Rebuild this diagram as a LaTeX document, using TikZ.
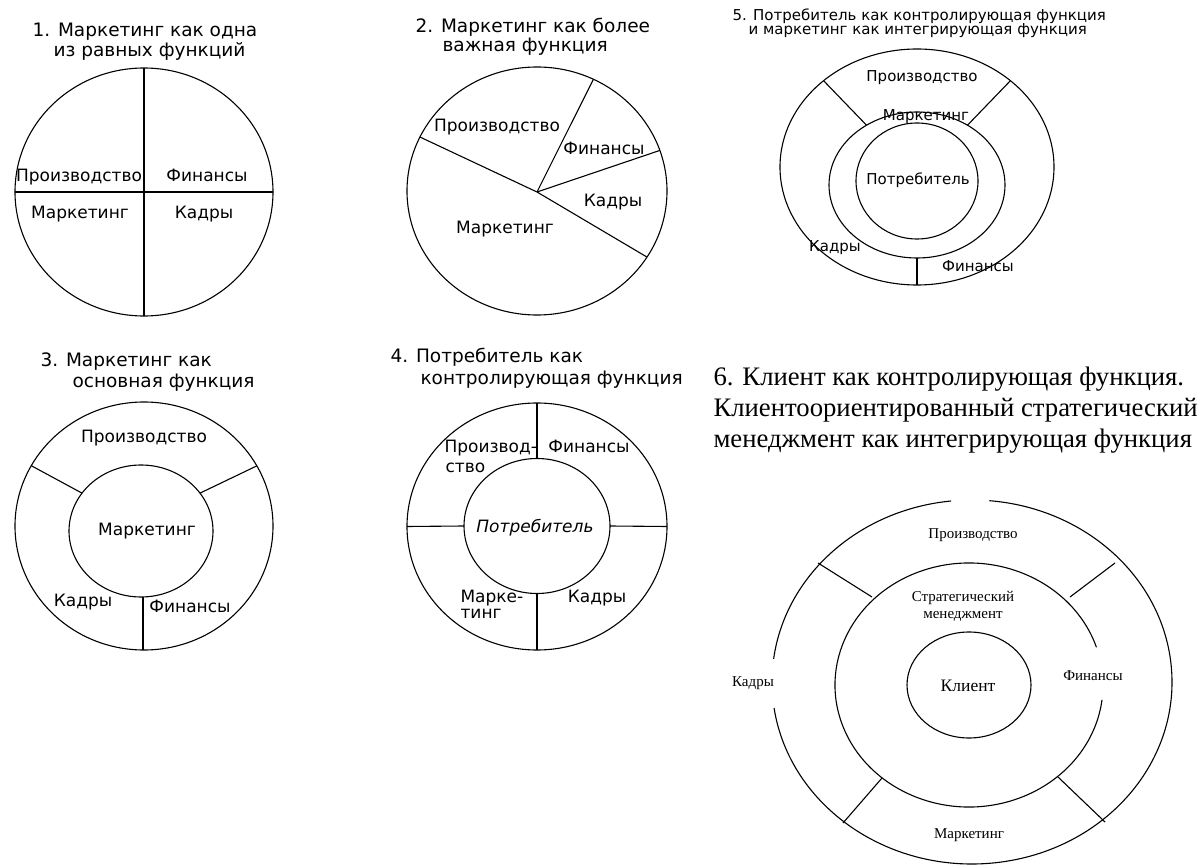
\documentclass[tikz,border=0pt]{standalone}
\usepackage{fontspec}
\setmainfont{DejaVu Sans}
\newfontfamily\tnr{Liberation Serif}
\usetikzlibrary{calc}
\begin{document}
\begin{tikzpicture}[x=1pt,y=1pt,line width=1.1pt,
  lbl/.style={inner sep=0pt,anchor=base,font=\fontsize{17}{20}\selectfont},
  lblw/.style={inner sep=0pt,anchor=base west,font=\fontsize{17}{20}\selectfont},
  ttl/.style={inner sep=0pt,anchor=base west,font=\fontsize{18.5}{22}\selectfont},
  sml/.style={inner sep=0pt,anchor=base,font=\fontsize{15}{18}\selectfont},
  smlt/.style={inner sep=0pt,anchor=base west,font=\fontsize{15}{18}\selectfont},
  rom/.style={inner sep=0pt,anchor=base,font=\tnr\fontsize{15}{18}\selectfont},
  romt/.style={inner sep=0pt,anchor=base west,font=\tnr\fontsize{26.7}{31}\selectfont}]
\useasboundingbox (0,0) rectangle (1200,-866);

% ---------- Diagram 1 ----------
\coordinate (c1) at (144,-192);
\draw (c1) ellipse [x radius=129, y radius=124];
\path (c1) ++(90:129pt and 124pt) coordinate (c1n)
      (c1) ++(-90:129pt and 124pt) coordinate (c1s)
      (c1) ++(180:129pt and 124pt) coordinate (c1w)
      (c1) ++(0:129pt and 124pt) coordinate (c1e);
\draw (c1n) -- (c1s);
\draw (c1w) -- (c1e);
\node[ttl] (t1a) at (32,-37) {1. Маркетинг как одна};
\node[ttl] (t1b) at (53,-57) {из равных функций};
\node[lbl] (d1p) at (79,-182) {Производство};
\node[lbl] (d1f) at (207,-182) {Финансы};
\node[lbl] (d1m) at (80,-219) {Маркетинг};
\node[lbl] (d1k) at (204,-219) {Кадры};

% ---------- Diagram 2 ----------
\coordinate (c2) at (537,-191);
\coordinate (h2) at (537,-192);
\draw (c2) ellipse [x radius=130, y radius=124];
\path (c2) ++(154.2:130pt and 124pt) coordinate (p2a)
      (c2) ++(64.3:130pt and 124pt) coordinate (p2b)
      (c2) ++(19.1:130pt and 124pt) coordinate (p2c)
      (c2) ++(-32.2:130pt and 124pt) coordinate (p2d);
\draw (p2a) -- (h2) -- (p2d);
\draw (h2) -- (p2b);
\draw (h2) -- (p2c);
\node[ttl] (t2a) at (415,-33) {2. Маркетинг как более};
\node[ttl] (t2b) at (442,-52) {важная функция};
\node[lbl] (d2p) at (497,-132) {Производство};
\node[lbl] (d2f) at (604,-155) {Финансы};
\node[lbl] (d2k) at (613,-207) {Кадры};
\node[lbl] (d2m) at (505,-234) {Маркетинг};

% ---------- Diagram 5 ----------
\coordinate (c5o) at (917,-167);
\coordinate (c5m) at (917,-185);
\coordinate (c5i) at (917,-181);
\draw (c5o) ellipse [x radius=137, y radius=118];
\draw (c5m) ellipse [x radius=88, y radius=73];
\draw (c5i) ellipse [x radius=61, y radius=58];
\path (c5o) ++(133:137pt and 118pt) coordinate (p5a)
      (c5m) ++(125:88pt and 73pt) coordinate (q5a)
      (c5o) ++(47:137pt and 118pt) coordinate (p5b)
      (c5m) ++(55:88pt and 73pt) coordinate (q5b)
      (c5o) ++(-90:137pt and 118pt) coordinate (p5c)
      (c5m) ++(-90:88pt and 73pt) coordinate (q5c);
\draw (p5a) -- (q5a);
\draw (p5b) -- (q5b);
\draw (q5c) -- (p5c);
\node[smlt] (t5a) at (732,-21) {5. Потребитель как контролирующая функция};
\node[smlt] (t5b) at (748,-35) {и маркетинг как интегрирующая функция};
\node[sml] (d5p) at (922,-82) {Производство};
\node[sml] (d5m) at (926,-121) {Маркетинг};
\node[sml] (d5c) at (918,-185) {Потребитель};
\node[sml] (d5k) at (835,-252) {Кадры};
\node[sml] (d5f) at (978,-272) {Финансы};

% ---------- Diagram 3 ----------
\coordinate (c3o) at (144,-526);
\coordinate (c3i) at (141,-531);
\draw (c3o) ellipse [x radius=129, y radius=124];
\draw (c3i) ellipse [x radius=72, y radius=66];
\path (c3o) ++(150.9:129pt and 124pt) coordinate (p3a)
      (c3i) ++(145:72pt and 66pt) coordinate (q3a)
      (c3o) ++(29:129pt and 124pt) coordinate (p3b)
      (c3i) ++(35:72pt and 66pt) coordinate (q3b);
\coordinate (q3c) at (143,-597);
\coordinate (p3c) at (143,-650);
\draw (p3a) -- (q3a);
\draw (p3b) -- (q3b);
\draw (q3c) -- (p3c);
\node[ttl] (t3a) at (40,-367) {3. Маркетинг как};
\node[ttl] (t3b) at (72,-388) {основная функция};
\node[lbl] (d3p) at (144,-443) {Производство};
\node[lbl] (d3m) at (147,-535) {Маркетинг};
\node[lbl] (d3k) at (83,-606) {Кадры};
\node[lbl] (d3f) at (190,-612) {Финансы};

% ---------- Diagram 4 ----------
\coordinate (c4o) at (537,-526.5);
\coordinate (c4i) at (537,-526);
\draw (c4o) ellipse [x radius=130, y radius=123.5];
\draw (c4i) ellipse [x radius=73, y radius=67.5];
\path (c4o) ++(90:130pt and 123.5pt) coordinate (p4n)
      (c4i) ++(90:73pt and 67.5pt) coordinate (q4n)
      (c4o) ++(-90:130pt and 123.5pt) coordinate (p4s)
      (c4i) ++(-90:73pt and 67.5pt) coordinate (q4s)
      (c4o) ++(180:130pt and 123.5pt) coordinate (p4w)
      (c4i) ++(180:73pt and 67.5pt) coordinate (q4w)
      (c4o) ++(0:130pt and 123.5pt) coordinate (p4e)
      (c4i) ++(0:73pt and 67.5pt) coordinate (q4e);
\draw (p4n) -- (q4n);
\draw (q4s) -- (p4s);
\draw (p4w) -- (q4w);
\draw (q4e) -- (p4e);
\node[ttl] (t4a) at (390,-363) {4. Потребитель как};
\node[ttl] (t4b) at (420,-385) {контролирующая функция};
\node[lblw] (d4p1) at (444,-453) {Производ-};
\node[lblw] (d4p2) at (445,-472) {ство};
\node[lbl] (d4f) at (589,-453) {Финансы};
\node[lbl,font=\itshape\fontsize{17}{20}\selectfont] (d4c) at (535,-532) {Потребитель};
\node[lblw] (d4m1) at (460,-602) {Марке-};
\node[lblw] (d4m2) at (460,-618) {тинг};
\node[lbl] (d4k) at (597,-602) {Кадры};

% ---------- Diagram 6 ----------
\coordinate (c6o) at (972,-682);
\coordinate (c6m) at (969,-685);
\coordinate (c6i) at (969,-685);
\draw ($(c6o)+(96:200pt and 182pt)$) arc[start angle=96, end angle=172.7, x radius=200, y radius=182];
\draw ($(c6o)+(188.2:200pt and 182pt)$) arc[start angle=188.2, end angle=445, x radius=200, y radius=182];
\draw ($(c6m)+(18:134pt and 122pt)$) arc[start angle=18, end angle=353, x radius=134, y radius=122];
\draw (c6i) ellipse [x radius=62, y radius=53];
\coordinate (p6a) at (818,-563);
\coordinate (q6a) at (872,-597);
\coordinate (p6b) at (1115,-563);
\coordinate (q6b) at (1070,-597);
\coordinate (q6c) at (882,-778);
\coordinate (p6c) at (843,-823);
\coordinate (q6d) at (1058,-777);
\coordinate (p6d) at (1105,-822);
\draw (p6a) -- (q6a);
\draw (p6b) -- (q6b);
\draw (q6c) -- (p6c);
\draw (q6d) -- (p6d);
\node[romt] (t6a) at (713,-386) {6. Клиент как контролирующая функция.};
\node[romt] (t6b) at (713,-417) {Клиентоориентированный стратегический};
\node[romt] (t6c) at (713,-448) {менеджмент как интегрирующая функция};
\node[rom] (d6p) at (973,-538) {Производство};
\node[rom] (d6s1) at (963,-601) {Стратегический};
\node[rom] (d6s2) at (963,-618) {менеджмент};
\node[rom,font=\tnr\fontsize{17.5}{20}\selectfont] (d6c) at (968,-691) {Клиент};
\node[rom] (d6f) at (1093,-680) {Финансы};
\node[rom] (d6k) at (753,-686) {Кадры};
\node[rom] (d6m) at (969,-838) {Маркетинг};
\end{tikzpicture}
\end{document}
